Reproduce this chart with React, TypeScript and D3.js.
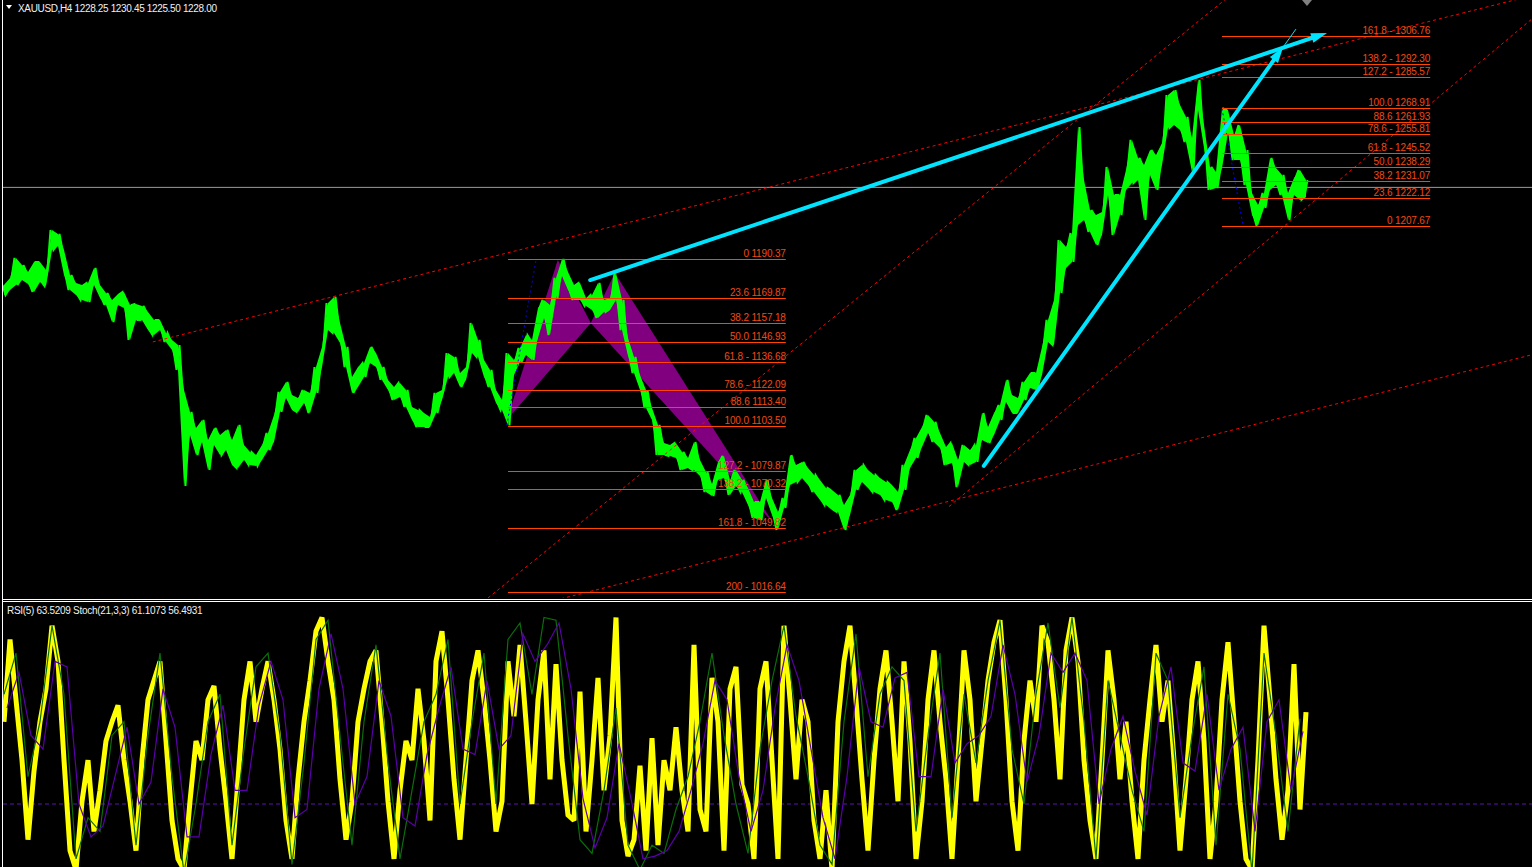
import * as d3 from 'd3';

const W = 1532, H = 867;
const FONT = "'Liberation Sans', Arial, sans-serif";

// XAUUSD H4 bars (one entry per ~6px column)
const highs = [
  1176.8, 1180.5, 1190.9, 1187.2, 1183.6, 1188.8, 1188.8, 1184.6, 1205.5, 1203.4,
  1195.1, 1182.0, 1177.9, 1176.8, 1177.9, 1185.7, 1176.8, 1172.6, 1169.0, 1172.1,
  1173.2, 1166.4, 1166.9, 1165.9, 1162.7, 1158.6, 1158.6, 1151.8, 1148.1, 1145.5,
  1122.0, 1110.6, 1102.2, 1106.4, 1096.0, 1102.2, 1098.6, 1101.2, 1096.0, 1103.8,
  1093.3, 1089.7, 1088.1, 1093.3, 1099.6, 1109.0, 1121.0, 1126.2, 1119.4, 1117.9,
  1122.0, 1120.5, 1134.0, 1144.5, 1167.4, 1170.6, 1157.0, 1144.5, 1128.8, 1134.0,
  1136.1, 1144.5, 1141.3, 1134.0, 1127.3, 1123.6, 1125.7, 1122.0, 1113.2, 1111.6,
  1110.0, 1108.0, 1120.5, 1122.0, 1141.3, 1139.3, 1130.9, 1134.0, 1157.0, 1148.1,
  1137.7, 1132.5, 1122.0, 1116.8, 1141.3, 1137.7, 1143.9, 1150.7, 1148.1, 1164.8,
  1169.0, 1166.4, 1180.5, 1190.4, 1183.6, 1176.8, 1177.9, 1170.0, 1171.6, 1177.9,
  1169.0, 1170.0, 1183.1, 1169.0, 1149.2, 1139.3, 1129.9, 1122.0, 1112.6, 1103.8,
  1094.4, 1093.3, 1094.4, 1089.7, 1086.6, 1094.9, 1085.5, 1079.3, 1073.0, 1084.5,
  1087.6, 1075.1, 1080.3, 1075.1, 1070.9, 1063.6, 1063.6, 1075.1, 1065.7, 1058.4,
  1065.7, 1088.1, 1082.9, 1084.5, 1081.3, 1077.7, 1075.1, 1070.9, 1069.9, 1067.3,
  1062.0, 1067.3, 1080.3, 1082.9, 1080.3, 1077.7, 1076.1, 1074.0, 1072.5, 1068.8,
  1082.9, 1090.7, 1097.0, 1102.7, 1109.0, 1105.4, 1099.6, 1092.3, 1094.4, 1085.5,
  1093.3, 1090.7, 1093.3, 1110.0, 1102.7, 1110.0, 1114.2, 1127.3, 1119.4, 1117.9,
  1126.2, 1130.9, 1130.9, 1144.5, 1158.6, 1169.0, 1200.3, 1196.6, 1203.9, 1259.2,
  1231.6, 1215.9, 1213.3, 1214.9, 1238.4, 1223.8, 1223.8, 1236.8, 1252.5, 1243.1,
  1239.4, 1247.2, 1244.6, 1250.9, 1275.9, 1278.5, 1270.7, 1264.5, 1253.5, 1283.8,
  1260.3, 1238.4, 1235.8, 1268.9, 1268.1, 1255.1, 1260.3, 1247.2, 1224.8, 1218.6,
  1224.8, 1243.1, 1237.9, 1234.2, 1224.8, 1232.6, 1236.8, 1231.6,
];
const lows = [
  1171.6, 1174.2, 1176.8, 1179.4, 1177.3, 1173.2, 1178.4, 1176.3, 1195.1, 1197.2,
  1182.0, 1174.2, 1171.6, 1169.0, 1167.9, 1176.8, 1170.0, 1166.4, 1157.5, 1166.4,
  1164.8, 1148.1, 1158.6, 1158.6, 1153.3, 1150.7, 1153.3, 1147.1, 1142.9, 1132.5,
  1072.0, 1098.6, 1088.1, 1094.9, 1080.3, 1093.3, 1088.1, 1090.7, 1082.9, 1081.3,
  1085.5, 1082.9, 1082.4, 1085.5, 1090.7, 1094.9, 1110.6, 1117.9, 1111.6, 1110.6,
  1115.3, 1110.0, 1120.5, 1134.0, 1153.3, 1151.8, 1146.6, 1134.0, 1120.5, 1123.6,
  1128.8, 1136.1, 1134.0, 1127.3, 1122.0, 1116.8, 1118.4, 1113.2, 1106.4, 1102.7,
  1102.7, 1102.7, 1110.0, 1116.8, 1128.8, 1130.9, 1123.6, 1127.3, 1141.3, 1139.3,
  1128.8, 1123.6, 1115.3, 1111.6, 1103.5, 1129.9, 1136.6, 1140.3, 1137.7, 1149.2,
  1159.6, 1150.7, 1170.0, 1181.5, 1174.2, 1169.0, 1169.0, 1165.9, 1163.8, 1159.6,
  1162.7, 1163.8, 1169.0, 1153.3, 1139.8, 1130.9, 1122.0, 1112.6, 1106.4, 1088.1,
  1088.1, 1087.6, 1086.6, 1080.3, 1081.3, 1080.3, 1077.2, 1068.8, 1066.7, 1075.1,
  1076.1, 1067.3, 1072.0, 1068.8, 1062.0, 1055.3, 1054.2, 1065.7, 1056.8, 1049.0,
  1060.5, 1072.5, 1074.0, 1076.1, 1072.5, 1068.8, 1064.6, 1062.0, 1059.4, 1058.4,
  1049.0, 1056.8, 1069.9, 1074.0, 1070.9, 1068.8, 1067.3, 1064.6, 1063.6, 1059.4,
  1069.9, 1081.3, 1086.6, 1092.3, 1099.6, 1094.9, 1091.8, 1082.9, 1084.0, 1071.4,
  1084.5, 1082.9, 1084.5, 1096.0, 1094.4, 1098.6, 1106.4, 1115.8, 1110.0, 1110.0,
  1116.8, 1123.1, 1122.0, 1129.9, 1147.1, 1145.5, 1172.6, 1185.7, 1188.8, 1208.1,
  1210.7, 1204.5, 1197.7, 1202.9, 1223.8, 1202.9, 1213.3, 1226.4, 1230.0, 1231.6,
  1210.7, 1234.2, 1226.4, 1239.4, 1258.7, 1260.3, 1257.7, 1251.4, 1235.8, 1268.1,
  1248.3, 1226.4, 1227.4, 1237.9, 1256.1, 1242.0, 1242.0, 1229.0, 1213.3, 1207.7,
  1217.0, 1226.4, 1229.0, 1223.8, 1210.7, 1223.8, 1221.2, 1222.7,
];

// RSI(5), same columns as the bars
const rsi5 = [
  60, 90, 68, 46, 17, 42, 60, 72, 95, 82,
  46, 13, 6, 31, 46, 20, 35, 53, 60, 66,
  46, 31, 13, 46, 68, 75, 82, 53, 24, 10,
  6, 31, 53, 46, 68, 73, 50, 31, 10, 39,
  68, 82, 60, 72, 82, 68, 50, 24, 10, 39,
  60, 75, 93, 98, 82, 68, 39, 17, 31, 60,
  72, 82, 86, 60, 31, 10, 35, 53, 46, 72,
  53, 24, 82, 93, 68, 39, 17, 46, 75, 86,
  68, 46, 20, 31, 82, 62, 88, 60, 30, 68,
  86, 39, 81, 46, 26, 24, 71, 20, 46, 76,
  35, 55, 98, 24, 11, 17, 44, 13, 54, 15,
  46, 35, 58, 35, 20, 88, 28, 20, 76, 60,
  13, 72, 80, 37, 30, 10, 72, 82, 46, 10,
  95, 68, 39, 68, 60, 24, 10, 35, 6, 60,
  82, 95, 68, 39, 13, 46, 72, 86, 60, 31,
  82, 53, 10, 31, 68, 86, 60, 39, 10, 46,
  86, 68, 31, 53, 75, 89, 97, 68, 31, 13,
  53, 75, 60, 95, 89, 68, 39, 86, 98, 82,
  46, 24, 10, 46, 86, 68, 39, 60, 31, 10,
  46, 68, 88, 60, 75, 46, 13, 39, 68, 82,
  53, 10, 31, 68, 89, 60, 31, 10, 6, 46,
  95, 68, 39, 17, 35, 81, 28, 63.5,
];

// Stoch(21,3,3), every second column
const stochMain = [
  70, 85, 40, 60, 95, 70, 10, 25, 20, 55,
  60, 15, 55, 85, 40, 5, 30, 60, 70, 15,
  50, 80, 85, 55, 8, 45, 90, 97, 55, 15,
  60, 88, 45, 10, 35, 60, 70, 90, 30, 60,
  85, 30, 90, 96, 70, 98, 97, 55, 17, 12,
  35, 65, 15, 6, 15, 12, 28, 40, 60, 85,
  55, 30, 12, 50, 75, 95, 62, 40, 15, 8,
  60, 92, 40, 70, 80, 75, 20, 55, 85, 25,
  70, 45, 75, 97, 50, 30, 70, 96, 65, 98,
  60, 10, 75, 55, 35, 20, 85, 75, 25, 55,
  80, 15, 70, 50, 5, 85, 55, 20, 61.1,
];
const stochSignal = [
  65, 78, 55, 50, 82, 80, 30, 18, 22, 40,
  58, 30, 38, 72, 58, 18, 18, 48, 66, 35,
  35, 66, 82, 68, 25, 28, 72, 92, 72, 30,
  40, 75, 62, 25, 22, 48, 65, 80, 50, 48,
  75, 50, 55, 92, 82, 88, 96, 72, 32, 14,
  25, 52, 32, 10, 11, 13, 20, 35, 52, 75,
  68, 40, 20, 35, 65, 88, 75, 50, 25, 10,
  40, 80, 60, 58, 76, 78, 40, 40, 72, 45,
  52, 55, 62, 88, 70, 38, 55, 85, 78, 85,
  75, 30, 50, 62, 42, 26, 62, 80, 45, 42,
  70, 35, 50, 58, 20, 60, 68, 35, 56.5,
];

const leftFibPrices = [1190.37, 1169.87, 1157.18, 1146.93, 1136.68, 1122.09, 1113.40, 1103.50, 1079.87, 1070.32, 1049.82, 1016.64];
const leftFibLabels = ['0 1190.37', '23.6 1169.87', '38.2 1157.18', '50.0 1146.93', '61.8 - 1136.68', '78.6 - 1122.09', '88.6 1113.40', '100.0 1103.50', '127.2 - 1079.87', '138.2 - 1070.32', '161.8 - 1049.82', '200 - 1016.64'];
const rightFibPrices = [1306.76, 1292.30, 1285.57, 1268.91, 1261.93, 1255.81, 1245.52, 1238.29, 1231.07, 1222.12, 1207.67];
const rightFibLabels = ['161.8 - 1306.76', '138.2 - 1292.30', '127.2 - 1285.57', '100.0 1268.91', '88.6 1261.93', '78.6 - 1255.81', '61.8 - 1245.52', '50.0 1238.29', '38.2 1231.07', '23.6 1222.12', '0 1207.67'];
const leftFibSpan = [84, 130.3];
const rightFibSpan = [203, 237.7];
const leftFibTrend = [[83.8, 1103.5], [88.7, 1190.37]];
const rightFibTrend = [[203, 1268.91], [206.5, 1207.67]];

// channel trend lines as [bar, price] anchors + drawn range in bars
const channels = [
  { a: [24.8, 1147.1], b: [250.5, 1324.5], from: 24.8, to: 262 },
  { a: [82.7, 1018.7], b: [186, 1281.2], from: 76, to: 210 },
  { a: [92.7, 1013.0], b: [216, 1110.0], from: 88, to: 262 },
  { a: [158.8, 1064.6], b: [216, 1214.4], from: 157.5, to: 262 },
];

// harmonic pattern X A B C D
const xabcd = [[83.8, 1106.4], [92.3, 1189.9], [97.8, 1157.0], [101.8, 1183.1], [128.2, 1052.6]];

// cyan arrows
const arrows = [
  [[97.7, 1179.4], [220.5, 1308.3]],
  [[163.3, 1082.4], [213.2, 1301.0]],
];

const lastPrice = 1228.0;

export default function App() {
  const x = d3.scaleLinear().domain([0, highs.length - 1]).range([4, 1306]);
  const y = d3.scaleLinear().domain([1013.5, 1325.5]).range([598, 0]);
  const yInd = d3.scaleLinear().domain([0, 100]).range([886.3, 612]);

  const bars = d3.range(highs.length);
  const band = d3.area<number>()
    .x(i => x(i))
    .y0(i => y(lows[i]))
    .y1(i => y(highs[i]))(bars) || '';
  // zigzag through each bar's high and low, like a compressed bar chart
  const zig: [number, number][] = [];
  bars.forEach(i => {
    if (i % 2 === 0) zig.push([x(i) - 1.5, y(highs[i])], [x(i) + 1.5, y(lows[i])]);
    else zig.push([x(i) - 1.5, y(lows[i])], [x(i) + 1.5, y(highs[i])]);
  });
  const zigPath = d3.line()(zig) || '';
  const rsiPath = d3.line<number>().x((_, i) => x(i)).y(v => yInd(v))(rsi5) || '';
  const mainPath = d3.line<number>().x((_, j) => x(j * 2)).y(v => yInd(v))(stochMain) || '';
  const sigPath = d3.line<number>().x((_, j) => x(j * 2 + 0.5)).y(v => yInd(v))(stochSignal) || '';

  const seg = (a: number[], b: number[], from: number, to: number) => {
    const k = (b[1] - a[1]) / (b[0] - a[0]);
    const p = (i: number) => a[1] + k * (i - a[0]);
    return { x1: x(from), y1: y(p(from)), x2: x(to), y2: y(p(to)) };
  };

  const arrow = (a: number[], b: number[], len: number, half: number) => {
    const x1 = x(a[0]), y1 = y(a[1]), x2 = x(b[0]), y2 = y(b[1]);
    const L = Math.hypot(x2 - x1, y2 - y1);
    const ux = (x2 - x1) / L, uy = (y2 - y1) / L;
    const bx = x2 - ux * len, by = y2 - uy * len;
    return {
      x1, y1, x2, y2, ux, uy,
      sx: bx + ux * 2, sy: by + uy * 2,
      head: `${x2},${y2} ${bx - uy * half},${by + ux * half} ${bx + uy * half},${by - ux * half}`,
    };
  };

  const tri = (pts: number[][]) => pts.map(p => `${x(p[0])},${y(p[1])}`).join(' ');
  const fibColor = '#ff4500';
  const cyan = '#00e5ff';

  const a1 = arrow(arrows[0][0], arrows[0][1], 16, 5);
  const a2 = arrow(arrows[1][0], arrows[1][1], 16, 5);

  return (
    <div style={{ position: 'fixed', left: 0, top: 0, width: W, height: H, background: '#000' }}>
      <svg width={W} height={H} style={{ display: 'block', background: '#000' }}>
        <defs>
          <clipPath id="mainClip"><rect x={3} y={0} width={W - 3} height={598} /></clipPath>
          <clipPath id="subClip"><rect x={3} y={602.5} width={W - 3} height={H - 602.5} /></clipPath>
        </defs>

        {/* main window */}
        <g clipPath="url(#mainClip)">
          <line x1={3} x2={W} y1={y(lastPrice) + 0.5} y2={y(lastPrice) + 0.5} stroke="#9a9a9a" strokeWidth={1} />

          <polygon points={tri(xabcd.slice(0, 3))} fill="#800080" />
          <polygon points={tri(xabcd.slice(2, 5))} fill="#800080" />

          <path d={band} fill="#00ff00" stroke="none" />
          <path d={zigPath} fill="none" stroke="#00ff00" strokeWidth={2} strokeLinejoin="miter" strokeMiterlimit={3} />

          {channels.map((c, k) => {
            const s = seg(c.a, c.b, c.from, c.to);
            return <line key={k} {...s} stroke="#ff0000" strokeWidth={1} strokeDasharray="3,3" />;
          })}

          {[leftFibTrend, rightFibTrend].map((t, k) => (
            <line key={k} x1={x(t[0][0])} y1={y(t[0][1])} x2={x(t[1][0])} y2={y(t[1][1])}
              stroke="#0000ff" strokeWidth={1} strokeDasharray="2,3" />
          ))}

          {leftFibPrices.map((p, k) => (
            <g key={'l' + k}>
              <line x1={x(leftFibSpan[0])} x2={x(leftFibSpan[1])} y1={Math.round(y(p)) + 0.5} y2={Math.round(y(p)) + 0.5} stroke={fibColor} strokeWidth={1} />
              <text x={x(leftFibSpan[1])} y={Math.round(y(p)) - 2.5} textAnchor="end" fill="#f04a14"
                fontFamily={FONT} fontSize={10} letterSpacing={-0.15}>{leftFibLabels[k]}</text>
            </g>
          ))}
          {rightFibPrices.map((p, k) => (
            <g key={'r' + k}>
              <line x1={x(rightFibSpan[0])} x2={x(rightFibSpan[1])} y1={Math.round(y(p)) + 0.5} y2={Math.round(y(p)) + 0.5} stroke={fibColor} strokeWidth={1} />
              <text x={x(rightFibSpan[1])} y={Math.round(y(p)) - 2.5} textAnchor="end" fill="#f04a14"
                fontFamily={FONT} fontSize={10} letterSpacing={-0.15}>{rightFibLabels[k]}</text>
            </g>
          ))}

          <line x1={a1.x1} y1={a1.y1} x2={a1.sx} y2={a1.sy} stroke={cyan} strokeWidth={4} strokeLinecap="round" />
          <polygon points={a1.head} fill={cyan} />
          <line x1={a2.x1} y1={a2.y1} x2={a2.sx} y2={a2.sy} stroke={cyan} strokeWidth={4} strokeLinecap="round" />
          <polygon points={a2.head} fill={cyan} />
          <line x1={a2.x2} y1={a2.y2} x2={a2.x2 + a2.ux * 22} y2={a2.y2 + a2.uy * 22} stroke={cyan} strokeWidth={1} />

          <polygon points="1302,0 1312,0 1307,6" fill="#808080" />
        </g>

        {/* indicator window */}
        <g clipPath="url(#subClip)">
          <line x1={3} x2={W} y1={yInd(30)} y2={yInd(30)} stroke="#5b14b0" strokeWidth={1} strokeDasharray="4,3" />
          <path d={rsiPath} fill="none" stroke="#ffff00" strokeWidth={5} strokeLinejoin="miter" strokeMiterlimit={2} />
          <path d={mainPath} fill="none" stroke="#0a6e0a" strokeWidth={1.2} />
          <path d={sigPath} fill="none" stroke="#5a00a8" strokeWidth={1.2} />
        </g>

        {/* frames */}
        <line x1={2.5} x2={2.5} y1={0} y2={H} stroke="#fff" strokeWidth={1} />
        <line x1={2} x2={W} y1={599.5} y2={599.5} stroke="#fff" strokeWidth={1} />
        <line x1={2} x2={W} y1={601.5} y2={601.5} stroke="#fff" strokeWidth={1} />

        {/* labels */}
        <polygon points="6,5 12,5 9,9" fill="#fff" />
        <text x={18} y={11.5} fill="#f0f0f0" fontFamily={FONT} fontSize={10} letterSpacing={-0.35}>
          XAUUSD,H4  1228.25 1230.45 1225.50 1228.00
        </text>
        <text x={7} y={614} fill="#f0f0f0" fontFamily={FONT} fontSize={10} letterSpacing={-0.3}>
          RSI(5) 63.5209  Stoch(21,3,3) 61.1073 56.4931
        </text>
      </svg>
    </div>
  );
}
